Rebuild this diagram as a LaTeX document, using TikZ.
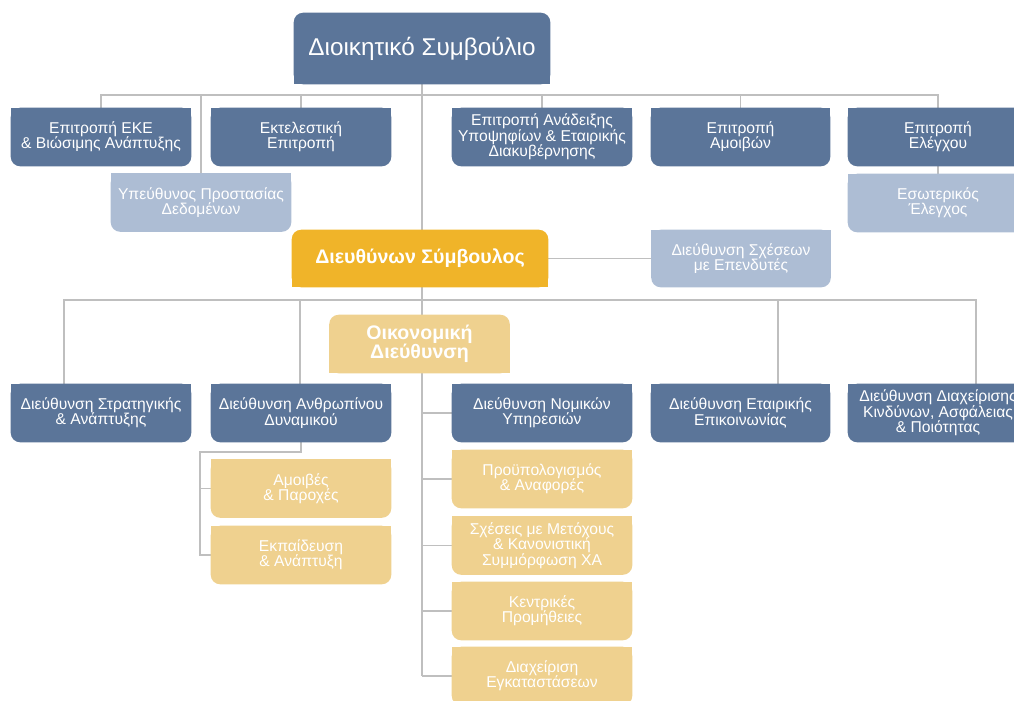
\documentclass[tikz,border=0pt]{standalone}
\usepackage{fontspec}
\setmainfont{Liberation Sans}
\definecolor{dblue}{HTML}{5B7599}
\definecolor{lblue}{HTML}{ADBDD4}
\definecolor{gold}{HTML}{F0B429}
\definecolor{pgold}{HTML}{EFD18F}
\definecolor{connc}{HTML}{BFBFBF}
\pgfdeclarelayer{lines}\pgfdeclarelayer{boxes}\pgfsetlayers{lines,boxes,main}
\newcommand\fb[2]{\begin{pgfonlayer}{boxes}\fill[#2,rounded corners=7pt] (#1.north west) rectangle (#1.south east);\fill[#2] (#1.north west) rectangle (#1.east);\end{pgfonlayer}}
\newcommand\ft[2]{\begin{pgfonlayer}{boxes}\fill[#2,rounded corners=7pt] (#1.north west) rectangle (#1.south east);\fill[#2] (#1.west) rectangle (#1.south east);\end{pgfonlayer}}
\tikzset{
 box/.style={inner sep=0pt, minimum width=135pt, minimum height=43.5pt, align=center, text=white, font=\fontsize{11.75pt}{11.5pt}\selectfont},
 bigbox/.style={box, minimum width=192pt, minimum height=53.25pt, font=\fontsize{18.2pt}{20pt}\selectfont},
 boldbox/.style={box, font=\fontsize{14.7pt}{14.5pt}\selectfont\bfseries},
 conn/.style={draw=connc, line width=1pt},
}
\begin{document}
\begin{tikzpicture}[x=0.75pt,y=-0.75pt]
\useasboundingbox (0,0) rectangle (1014,700);
% top
\node[bigbox] (board) at (422,48.5) {Διοικητικό Συμβούλιο}; \ft{board}{dblue}
\node[box] (eke) at (101,137) {Επιτροπή ΕΚΕ\\\& Βιώσιμης Ανάπτυξης}; \fb{eke}{dblue}
\node[box] (ekt) at (301,137) {Εκτελεστική\\Επιτροπή}; \fb{ekt}{dblue}
\node[box] (and) at (542,137) {Επιτροπή Ανάδειξης\\Υποψηφίων \& Εταιρικής\\Διακυβέρνησης}; \fb{and}{dblue}
\node[box, minimum width=134.25pt] (amv) at (740.5,137) {Επιτροπή\\Αμοιβών}; \fb{amv}{dblue}
\node[box] (elg) at (938,137) {Επιτροπή\\Ελέγχου}; \fb{elg}{dblue}
\node[box] (ypd) at (201,202.5) {Υπεύθυνος Προστασίας\\Δεδομένων}; \fb{ypd}{lblue}
\node[box] (esw) at (938,203) {Εσωτερικός\\Έλεγχος}; \fb{esw}{lblue}
% CEO level
\node[boldbox, minimum width=192pt, minimum height=42.75pt] (ceo) at (420,258.5) {Διευθύνων Σύμβουλος}; \ft{ceo}{gold}
\node[box, minimum width=134.25pt, minimum height=42.75pt] (ep) at (741,258.5) {Διεύθυνση Σχέσεων\\με Επενδυτές}; \fb{ep}{lblue}
\node[boldbox] (cfo) at (419.5,344) {Οικονομική\\Διεύθυνση}; \ft{cfo}{pgold}
% directorates
\node[box] (str) at (101,413) {Διεύθυνση Στρατηγικής\\\& Ανάπτυξης}; \fb{str}{dblue}
\node[box] (anth) at (301,413) {Διεύθυνση Ανθρωπίνου\\Δυναμικού}; \fb{anth}{dblue}
\node[box] (nom) at (542,413) {Διεύθυνση Νομικών\\Υπηρεσιών}; \fb{nom}{dblue}
\node[box, minimum width=134.25pt] (epik) at (740.5,413) {Διεύθυνση Εταιρικής\\Επικοινωνίας}; \fb{epik}{dblue}
\node[box] (diax) at (938,413) {Διεύθυνση Διαχείρισης\\Κινδύνων, Ασφάλειας\\\& Ποιότητας}; \fb{diax}{dblue}
% sub units
\node[box] (amoib) at (301,488.5) {Αμοιβές\\\& Παροχές}; \fb{amoib}{pgold}
\node[box] (ekp) at (301,555) {Εκπαίδευση\\\& Ανάπτυξη}; \fb{ekp}{pgold}
\node[box] (proy) at (542,479) {Προϋπολογισμός\\\& Αναφορές}; \fb{proy}{pgold}
\node[box] (sxes) at (542,545.5) {Σχέσεις με Μετόχους\\\& Κανονιστική\\Συμμόρφωση ΧΑ}; \fb{sxes}{pgold}
\node[box] (kentr) at (542,611) {Κεντρικές\\Προμήθειες}; \fb{kentr}{pgold}
\node[box] (dxe) at (542,676) {Διαχείριση\\Εγκαταστάσεων}; \fb{dxe}{pgold}
% connectors
\begin{pgfonlayer}{lines}
\coordinate (b1) at (422,95);
\coordinate (s1) at (64,300);
\coordinate (s2) at (300,300);
\coordinate (s3) at (778,300);
\coordinate (s4) at (976,300);
\coordinate (h1) at (200,452);
\draw[conn] (board.south) -- (board.south |- dxe.west);
\draw[conn] (eke.north) -- (eke.north |- b1) -- (elg.north |- b1) -- (elg.north);
\draw[conn] (ekt.north) -- (ekt.north |- b1);
\draw[conn] (ypd.north) -- (ypd.north |- b1);
\draw[conn] (and.north) -- (and.north |- b1);
\draw[conn] (amv.north) -- (amv.north |- b1);
\draw[conn] (elg.south) -- (esw.north);
\draw[conn] (ceo.east) -- (ep.west);
\draw[conn] (s1 |- str.north) -- (s1) -- (s4) -- (s4 |- diax.north);
\draw[conn] (s2) -- (s2 |- anth.north);
\draw[conn] (s3) -- (s3 |- epik.north);
\draw[conn] (board.south |- nom.west) -- (nom.west);
\draw[conn] (board.south |- proy.west) -- (proy.west);
\draw[conn] (board.south |- sxes.west) -- (sxes.west);
\draw[conn] (board.south |- kentr.west) -- (kentr.west);
\draw[conn] (board.south |- dxe.west) -- (dxe.west);
\draw[conn] (anth.south) -- (anth.south |- h1) -- (h1) -- (h1 |- ekp.west) -- (ekp.west);
\draw[conn] (h1 |- amoib.west) -- (amoib.west);
\end{pgfonlayer}
\end{tikzpicture}
\end{document}
